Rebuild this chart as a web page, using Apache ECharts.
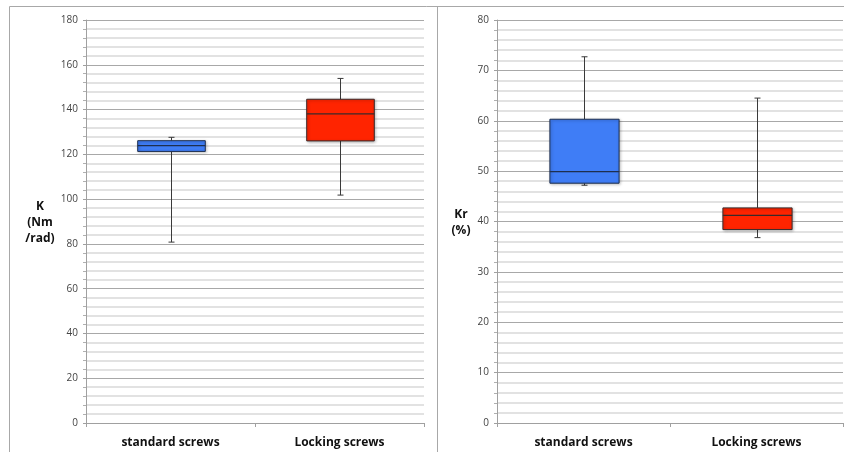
<!DOCTYPE html>
<html>
<head>
<meta charset="utf-8">
<script src="https://cdn.jsdelivr.net/npm/echarts@6/dist/echarts.min.js"></script>
<style>
html,body{margin:0;padding:0;background:#fff;}
#c{width:844px;height:452px;}
</style>
</head>
<body>
<div id="c"></div>
<script>
// Data: [min, Q1, median, Q3, max]
var categories = ['standard screws', 'Locking screws'];
var kStandard = [80.8, 121.3, 123.9, 126.1, 127.6];
var kLocking = [101.8, 126.0, 138.1, 144.6, 153.9];
var krStandard = [47.2, 47.6, 49.9, 60.3, 72.7];
var krLocking = [36.8, 38.4, 41.2, 42.7, 64.5];
var kTicks = [0, 20, 40, 60, 80, 100, 120, 140, 160, 180];
var krTicks = [0, 10, 20, 30, 40, 50, 60, 70, 80];

var boxColors = ['#3f7df6', '#ff2400'];
var boxBorders = ['#1e2f4f', '#3a2a2a'];

function renderBox(params, api) {
  var idx = api.value(0);
  var mn = api.value(1), q1 = api.value(2), md = api.value(3), q3 = api.value(4), mx = api.value(5);
  var pMin = api.coord([idx, mn]);
  var pQ1 = api.coord([idx, q1]);
  var pMd = api.coord([idx, md]);
  var pQ3 = api.coord([idx, q3]);
  var pMax = api.coord([idx, mx]);
  var bw = api.size([1, 0])[0] * 0.4;
  var cx = Math.round(pMd[0]) + 0.5;
  var x0 = cx - bw / 2;
  var cap = 3;
  var wStyle = {stroke: '#3a3a3a', lineWidth: 1};
  return {
    type: 'group',
    children: [
      {type: 'line', shape: {x1: cx, y1: pQ3[1], x2: cx, y2: pMax[1]}, style: wStyle},
      {type: 'line', shape: {x1: cx - cap, y1: pMax[1], x2: cx + cap, y2: pMax[1]}, style: wStyle},
      {type: 'line', shape: {x1: cx, y1: pQ1[1], x2: cx, y2: pMin[1]}, style: wStyle},
      {type: 'line', shape: {x1: cx - cap, y1: pMin[1], x2: cx + cap, y2: pMin[1]}, style: wStyle},
      {type: 'rect', shape: {x: x0, y: pQ3[1], width: bw, height: pQ1[1] - pQ3[1]},
        style: {fill: boxColors[idx], stroke: boxBorders[idx], lineWidth: 1,
          shadowBlur: 3, shadowColor: 'rgba(0,0,0,0.3)', shadowOffsetX: 1, shadowOffsetY: 1}},
      {type: 'line', shape: {x1: x0, y1: pMd[1], x2: x0 + bw, y2: pMd[1]},
        style: {stroke: boxBorders[idx], lineWidth: 1.3}}
    ]
  };
}

function makeData(a, b) {
  return [[0].concat(a), [1].concat(b)];
}

var font = '"Open Sans", "DejaVu Sans", sans-serif';

function xAxisCfg(gi) {
  return {
    type: 'category', gridIndex: gi, data: categories,
    axisLine: {lineStyle: {color: '#a0a0a0', width: 1}},
    axisTick: {show: true, length: 4, lineStyle: {color: '#a0a0a0'}},
    axisLabel: {fontFamily: font, fontWeight: 'bold', fontSize: 12, color: '#111', margin: 14},
    splitLine: {show: false}
  };
}
function yAxisCfg(gi, max, interval) {
  return {
    type: 'value', gridIndex: gi, min: 0, max: max, interval: interval,
    axisLine: {show: true, lineStyle: {color: '#a0a0a0', width: 1}},
    axisTick: {show: true, length: 3, lineStyle: {color: '#a0a0a0'}},
    minorTick: {show: true, splitNumber: 5, length: 3, lineStyle: {color: '#b0b0b0'}},
    axisLabel: {fontFamily: font, fontSize: 10, color: '#444', margin: 8},
    splitLine: {show: true, lineStyle: {color: '#a8a8a8', width: 1}},
    minorSplitLine: {show: true, lineStyle: {color: '#d9d9d9', width: 1.5}}
  };
}

var chart = echarts.init(document.getElementById('c'));
chart.setOption({
  animation: false,
  backgroundColor: '#fff',
  grid: [
    {left: 86, top: 20, width: 338, height: 403},
    {left: 497, top: 20, width: 346, height: 403}
  ],
  xAxis: [xAxisCfg(0), xAxisCfg(1)],
  yAxis: [yAxisCfg(0, kTicks[kTicks.length - 1], kTicks[1] - kTicks[0]),
          yAxisCfg(1, krTicks[krTicks.length - 1], krTicks[1] - krTicks[0])],
  series: [
    {type: 'custom', xAxisIndex: 0, yAxisIndex: 0, renderItem: renderBox,
      encode: {x: 0, y: [1, 2, 3, 4, 5]}, data: makeData(kStandard, kLocking), z: 5},
    {type: 'custom', xAxisIndex: 1, yAxisIndex: 1, renderItem: renderBox,
      encode: {x: 0, y: [1, 2, 3, 4, 5]}, data: makeData(krStandard, krLocking), z: 5}
  ],
  graphic: [
    {type: 'line', shape: {x1: 9.5, y1: 6.5, x2: 844, y2: 6.5}, style: {stroke: '#a8a8a8', lineWidth: 1}},
    {type: 'line', shape: {x1: 9.5, y1: 6.5, x2: 9.5, y2: 452}, style: {stroke: '#a8a8a8', lineWidth: 1}},
    {type: 'line', shape: {x1: 437.5, y1: 6.5, x2: 437.5, y2: 452}, style: {stroke: '#a8a8a8', lineWidth: 1}},
    {type: 'text', x: 40, y: 199,
      style: {text: 'K\n(Nm\n/rad)', font: 'bold 12px ' + font, fill: '#111', textAlign: 'center', lineHeight: 16}},
    {type: 'text', x: 461, y: 207,
      style: {text: 'Kr\n(%)', font: 'bold 12px ' + font, fill: '#111', textAlign: 'center', lineHeight: 16}}
  ]
});
</script>
</body>
</html>
